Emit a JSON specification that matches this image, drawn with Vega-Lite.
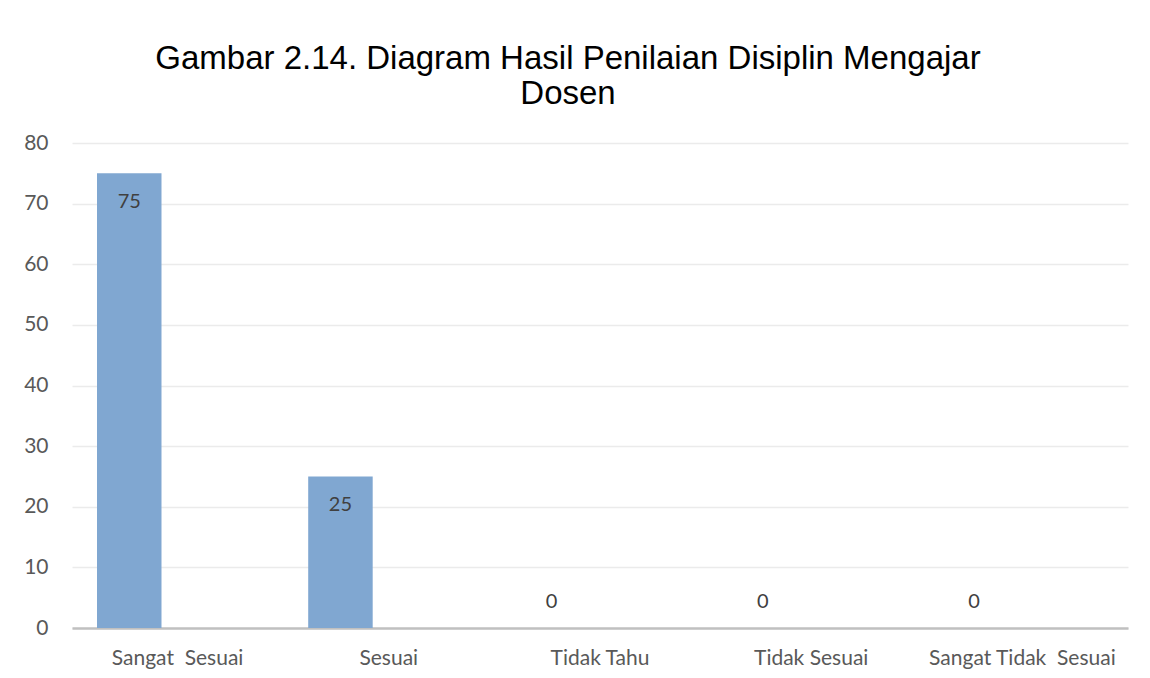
{
  "$schema": "https://vega.github.io/schema/vega-lite/v6.json",
  "width": 1056,
  "height": 485,
  "autosize": {"type": "none"},
  "padding": {"left": 72, "top": 143, "right": 22, "bottom": 50},
  "background": "white",
  "title": {
    "text": ["Gambar 2.14. Diagram Hasil Penilaian Disiplin Mengajar", "Dosen"],
    "font": "Liberation Sans",
    "fontSize": 33,
    "fontWeight": "normal",
    "color": "#000000",
    "lineHeight": 35,
    "anchor": "middle",
    "dx": -32,
    "offset": 21
  },
  "data": {
    "values": [
      {"kategori": "Sangat\u00a0 Sesuai", "seri": "A", "nilai": 75},
      {"kategori": "Sesuai", "seri": "A", "nilai": 25},
      {"kategori": "Tidak Tahu", "seri": "A", "nilai": 0},
      {"kategori": "Tidak Sesuai", "seri": "A", "nilai": 0},
      {"kategori": "Sangat Tidak\u00a0 Sesuai", "seri": "A", "nilai": 0}
    ]
  },
  "encoding": {
    "x": {
      "field": "kategori",
      "type": "nominal",
      "sort": null,
      "scale": {"paddingInner": 0, "paddingOuter": 0},
      "axis": {
        "title": null,
        "labelAngle": 0,
        "labelFont": "Lato",
        "labelFontSize": 21,
        "labelColor": "#595959",
        "labelPadding": 19,
        "labelLimit": 0,
        "ticks": false,
        "domainColor": "#c0c0c0",
        "domainWidth": 2.5,
        "grid": false
      }
    },
    "xOffset": {
      "field": "seri",
      "type": "nominal",
      "scale": {"domain": ["A", "B"], "paddingInner": 0.333, "paddingOuter": 0.2585}
    },
    "y": {
      "field": "nilai",
      "type": "quantitative",
      "scale": {"domain": [0, 80]},
      "axis": {
        "title": null,
        "values": [0, 10, 20, 30, 40, 50, 60, 70, 80],
        "labelFont": "Lato",
        "labelFontSize": 21,
        "labelColor": "#595959",
        "labelPadding": 24,
        "ticks": false,
        "domain": false,
        "gridColor": "#ebebeb",
        "gridWidth": 1.3
      }
    }
  },
  "layer": [
    {"mark": {"type": "bar", "color": "#80a7d1"}},
    {
      "transform": [{"filter": "datum.nilai > 0"}],
      "mark": {"type": "text", "font": "Lato", "fontSize": 20, "color": "#404040", "baseline": "middle", "dy": 29},
      "encoding": {"text": {"field": "nilai", "type": "quantitative"}}
    },
    {
      "transform": [{"filter": "datum.nilai == 0"}],
      "mark": {"type": "text", "font": "Lato", "fontSize": 20, "color": "#404040", "baseline": "middle", "dy": -26},
      "encoding": {"text": {"field": "nilai", "type": "quantitative"}}
    }
  ],
  "config": {"view": {"stroke": null}}
}
